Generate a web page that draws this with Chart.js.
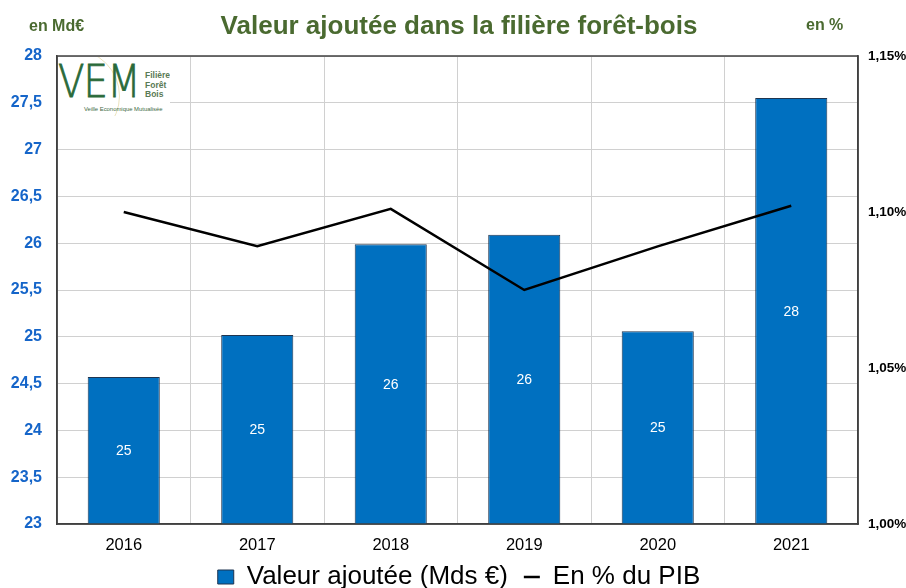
<!DOCTYPE html>
<html>
<head>
<meta charset="utf-8">
<script src="https://cdn.jsdelivr.net/npm/chart.js@4.4.1/dist/chart.umd.min.js"></script>
<style>
  html,body{margin:0;padding:0;background:#fff;}
  #wrap{position:relative;width:906px;height:588px;font-family:"Liberation Sans",Arial,sans-serif;}
  canvas{position:absolute;left:0;top:0;}
  .t{position:absolute;font-weight:bold;color:#4a6a30;white-space:nowrap;}
  #logo{position:absolute;left:58px;top:57px;width:112px;height:59px;background:#fff;overflow:hidden;}
  #logo .arc{position:absolute;left:-32px;top:-8px;width:92px;height:92px;border-radius:50%;border:1.5px solid #ece3bd;}
  #logo .vem{position:absolute;left:0px;top:2px;font-size:45px;line-height:45px;color:#2a6a3a;letter-spacing:-1px;font-family:"DejaVu Sans","Liberation Sans",sans-serif;font-weight:200;transform:scaleX(0.86);transform-origin:0 0;white-space:nowrap;-webkit-text-stroke:0.8px #2a6a3a;}
  #logo .ffb{position:absolute;left:87px;top:14px;font-size:8.5px;line-height:9.5px;color:#5a7a55;font-weight:bold;}
  #logo .vm{position:absolute;left:26px;top:49px;font-size:5.9px;color:#3e6a45;white-space:nowrap;}
</style>
</head>
<body>
<div id="wrap">
  <canvas id="c" width="906" height="588"></canvas>
  <div class="t" style="left:0;width:906px;text-align:center;top:10px;font-size:26px;padding-left:12px;box-sizing:border-box;">Valeur ajoutée dans la filière forêt-bois</div>
  <div class="t" style="left:29px;top:17px;font-size:16px;">en Md€</div>
  <div class="t" style="left:806px;top:16px;font-size:16px;">en %</div>
  <div id="logo"><div class="arc"></div><div class="vem">VEM</div><div class="ffb">Filière<br>Forêt<br>Bois</div><div class="vm">Veille Economique Mutualisée</div></div>
</div>
<script>
const categories = ["2016","2017","2018","2019","2020","2021"];
const valeurAjoutee = [24.57, 25.02, 25.99, 26.09, 25.06, 27.55];
const partPIB = [1.100, 1.089, 1.101, 1.075, 1.089, 1.102];
const leftTicks = [23,23.5,24,24.5,25,25.5,26,26.5,27,27.5,28];
const rightTicks = [1.00,1.05,1.10,1.15];

const FONT = '"Liberation Sans", Arial, sans-serif';
const frFmt = v => String(v).replace('.', ',');

const barLabels = {
  id:'barLabels',
  afterDraw(chart){
    const ctx = chart.ctx;
    const ys = chart.scales.y;
    const meta = chart.getDatasetMeta(1);
    ctx.save();
    ctx.fillStyle = '#ffffff';
    ctx.font = '14px ' + FONT;
    ctx.textAlign = 'center';
    ctx.textBaseline = 'middle';
    const base = ys.getPixelForValue(ys.min);
    meta.data.forEach((el, i) => {
      const top = ys.getPixelForValue(valeurAjoutee[i]);
      ctx.fillText(String(Math.round(valeurAjoutee[i])), el.x, (top + base) / 2 + 1);
    });
    ctx.restore();
  }
};
const frame = {
  id:'frame',
  afterDraw(chart){
    const a = chart.chartArea, ctx = chart.ctx;
    ctx.save();
    ctx.strokeStyle = '#404040';
    ctx.lineWidth = 1.5;
    ctx.strokeRect(a.left, a.top, a.right - a.left, a.bottom - a.top);
    ctx.restore();
  }
};
const legendFit = {
  id:'legendFit',
  beforeLayout(chart){
    const lg = chart.legend;
    if (lg && !lg._fitPatched) {
      const f = lg.fit;
      lg.fit = function(){ f.call(this); this.height = 30; };
      lg._fitPatched = true;
    }
  },
  afterLayout(chart){
    const lg = chart.legend;
    if (lg) {
      lg.top -= 10; lg.height = lg.bottom - lg.top;
      lg.left += 6; lg.right += 6;
    }
  }
};

new Chart(document.getElementById('c'), {
  data: {
    labels: categories,
    datasets: [
      {
        type:'line', label:'En % du PIB', data: partPIB, yAxisID:'y1',
        borderColor:'#000', backgroundColor:'#000', borderWidth:2.5,
        pointRadius:0, tension:0, order:0, pointStyle:'line'
      },
      {
        type:'bar', label:'Valeur ajoutée (Mds €)', data: valeurAjoutee, yAxisID:'y',
        backgroundColor:'#0070C0', borderColor:'#1f3550', borderWidth:1,
        barPercentage:0.54, categoryPercentage:1, order:1, pointStyle:'rect'
      }
    ]
  },
  options: {
    responsive:false,
    animation:false,
    layout:{padding:{top:56, left:0, right:0, bottom:0}},
    plugins:{
      legend:{
        position:'bottom',
        reverse:true,
        labels:{
          usePointStyle:true,
          boxWidth:16, boxHeight:14, pointStyleWidth:16,
          padding:16,
          color:'#000',
          font:{size:26, family:FONT}
        }
      },
      tooltip:{enabled:false}
    },
    scales:{
      x:{
        grid:{color:'#d0d0d0', lineWidth:1, offset:true, drawTicks:false},
        border:{color:'#404040', width:1.5},
        ticks:{color:'#000', font:{size:16.5, family:FONT}, padding:12},
        afterFit(s){ s.height = 34; }
      },
      y:{
        position:'left', min:23, max:28,
        afterBuildTicks(s){ s.ticks = leftTicks.map(v => ({value:v})); },
        grid:{color:'#d0d0d0', lineWidth:1, drawTicks:false},
        border:{color:'#404040', width:1.5},
        ticks:{color:'#1565c9', font:{size:16, weight:'bold', family:FONT}, padding:15, callback:v => frFmt(v)},
        afterFit(s){ s.width = 57; }
      },
      y1:{
        position:'right', min:1.00, max:1.15,
        afterBuildTicks(s){ s.ticks = rightTicks.map(v => ({value:v})); },
        grid:{display:false, drawTicks:false},
        border:{color:'#404040', width:1.5},
        ticks:{color:'#000', font:{size:13.5, weight:'bold', family:FONT}, padding:10, callback:v => v.toFixed(2).replace('.', ',') + '%'},
        afterFit(s){ s.width = 48; }
      }
    }
  },
  plugins:[barLabels, frame, legendFit]
});
</script>
</body>
</html>
